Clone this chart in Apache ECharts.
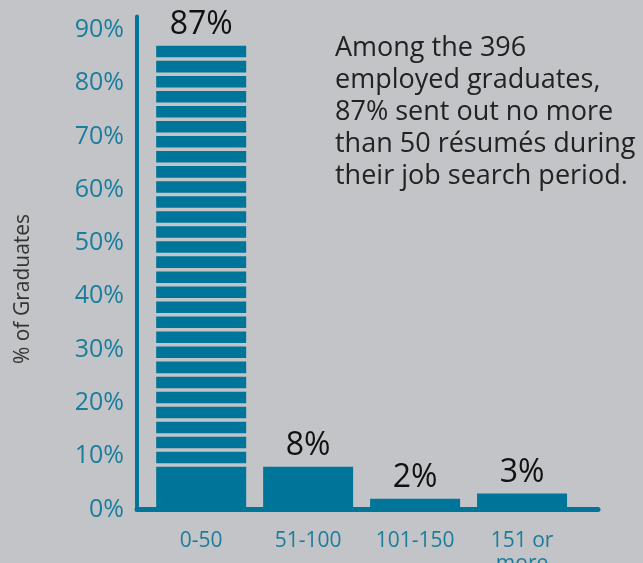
<!DOCTYPE html>
<html>
<head>
<meta charset="utf-8">
<script src="https://cdn.jsdelivr.net/npm/echarts@6/dist/echarts.min.js"></script>
<style>
html, body { margin: 0; padding: 0; background: #c3c4c7; }
#chart { width: 643px; height: 563px; }
</style>
</head>
<body>
<div id="chart"></div>
<script>
// 数据
const categories = ["0-50", "51-100", "101-150", "151 or\nmore"];
const percentValues = [87, 8, 2, 3];
const stripeFrom = 8; // first bar is striped above this level
const note =
  "Among the 396\nemployed graduates,\n87% sent out no more\nthan 50 résumés during\ntheir job search period.";

const bg = "#c3c4c7";
const teal = "#00759a";
const labelTeal = "#1a7d9d";
const font = "Open Sans";

var myChart = echarts.init(document.getElementById("chart"));

let option = {
  backgroundColor: bg,
  textStyle: { fontFamily: font },
  grid: {
    left: 137,
    right: 45,
    top: 16.5,
    bottom: 53.5,
    containLabel: false,
    outerBoundsMode: "none",
  },
  xAxis: {
    type: "value",
    min: -0.6,
    max: 3.71,
    splitLine: { show: false },
    axisTick: { show: false },
    axisLine: { show: true, onZero: false, lineStyle: { color: teal, width: 5 } },
    axisLabel: {
      customValues: [0, 1, 2, 3],
      color: labelTeal,
      fontSize: 21,
      lineHeight: 23,
      margin: 20,
      formatter: function (v) {
        return categories[Math.round(v)];
      },
    },
  },
  yAxis: {
    type: "value",
    min: 0,
    max: 92.5,
    interval: 10,
    splitLine: { show: false },
    axisTick: { show: false },
    axisLine: { show: true, onZero: false, lineStyle: { color: teal, width: 4 } },
    axisLabel: {
      color: labelTeal,
      fontSize: 25,
      margin: 13,
      showMaxLabel: false,
      formatter: "{value}%",
    },
  },
  series: [
    {
      type: "bar",
      barWidth: 90,
      data: percentValues.map((v, i) => [i, v]),
      itemStyle: { color: teal },
      label: {
        show: true,
        position: "top",
        distance: 5,
        color: "#111",
        fontSize: 32,
        formatter: (p) => p.value[1] + "%",
      },
    },
    {
      // 横向条纹
      type: "custom",
      z: 3,
      silent: true,
      data: [[0, stripeFrom, percentValues[0]]],
      renderItem: function (params, api) {
        const top = api.coord([api.value(0), api.value(2)]);
        const bot = api.coord([api.value(0), api.value(1)]);
        const n = 28;
        const gap = 3.5;
        const w = 92;
        const step = (bot[1] - top[1]) / n;
        const children = [];
        for (let k = 0; k < n; k++) {
          children.push({
            type: "rect",
            shape: { x: top[0] - w / 2, y: top[1] + step * (k + 1) - gap, width: w, height: gap },
            style: { fill: bg },
          });
        }
        return { type: "group", children: children };
      },
    },
  ],
  graphic: [
    {
      type: "text",
      x: 23,
      y: 289,
      rotation: Math.PI / 2,
      style: {
        text: "% of Graduates",
        fill: "#333",
        font: "21px " + font,
        align: "center",
        verticalAlign: "middle",
      },
    },
    {
      type: "text",
      left: 335,
      top: 32,
      style: {
        text: note,
        fill: "#222",
        font: "27px " + font,
        lineHeight: 32,
      },
    },
  ],
};

myChart.setOption(option);
window.addEventListener("resize", () => {
  if (myChart) myChart.resize();
});
</script>
</body>
</html>
